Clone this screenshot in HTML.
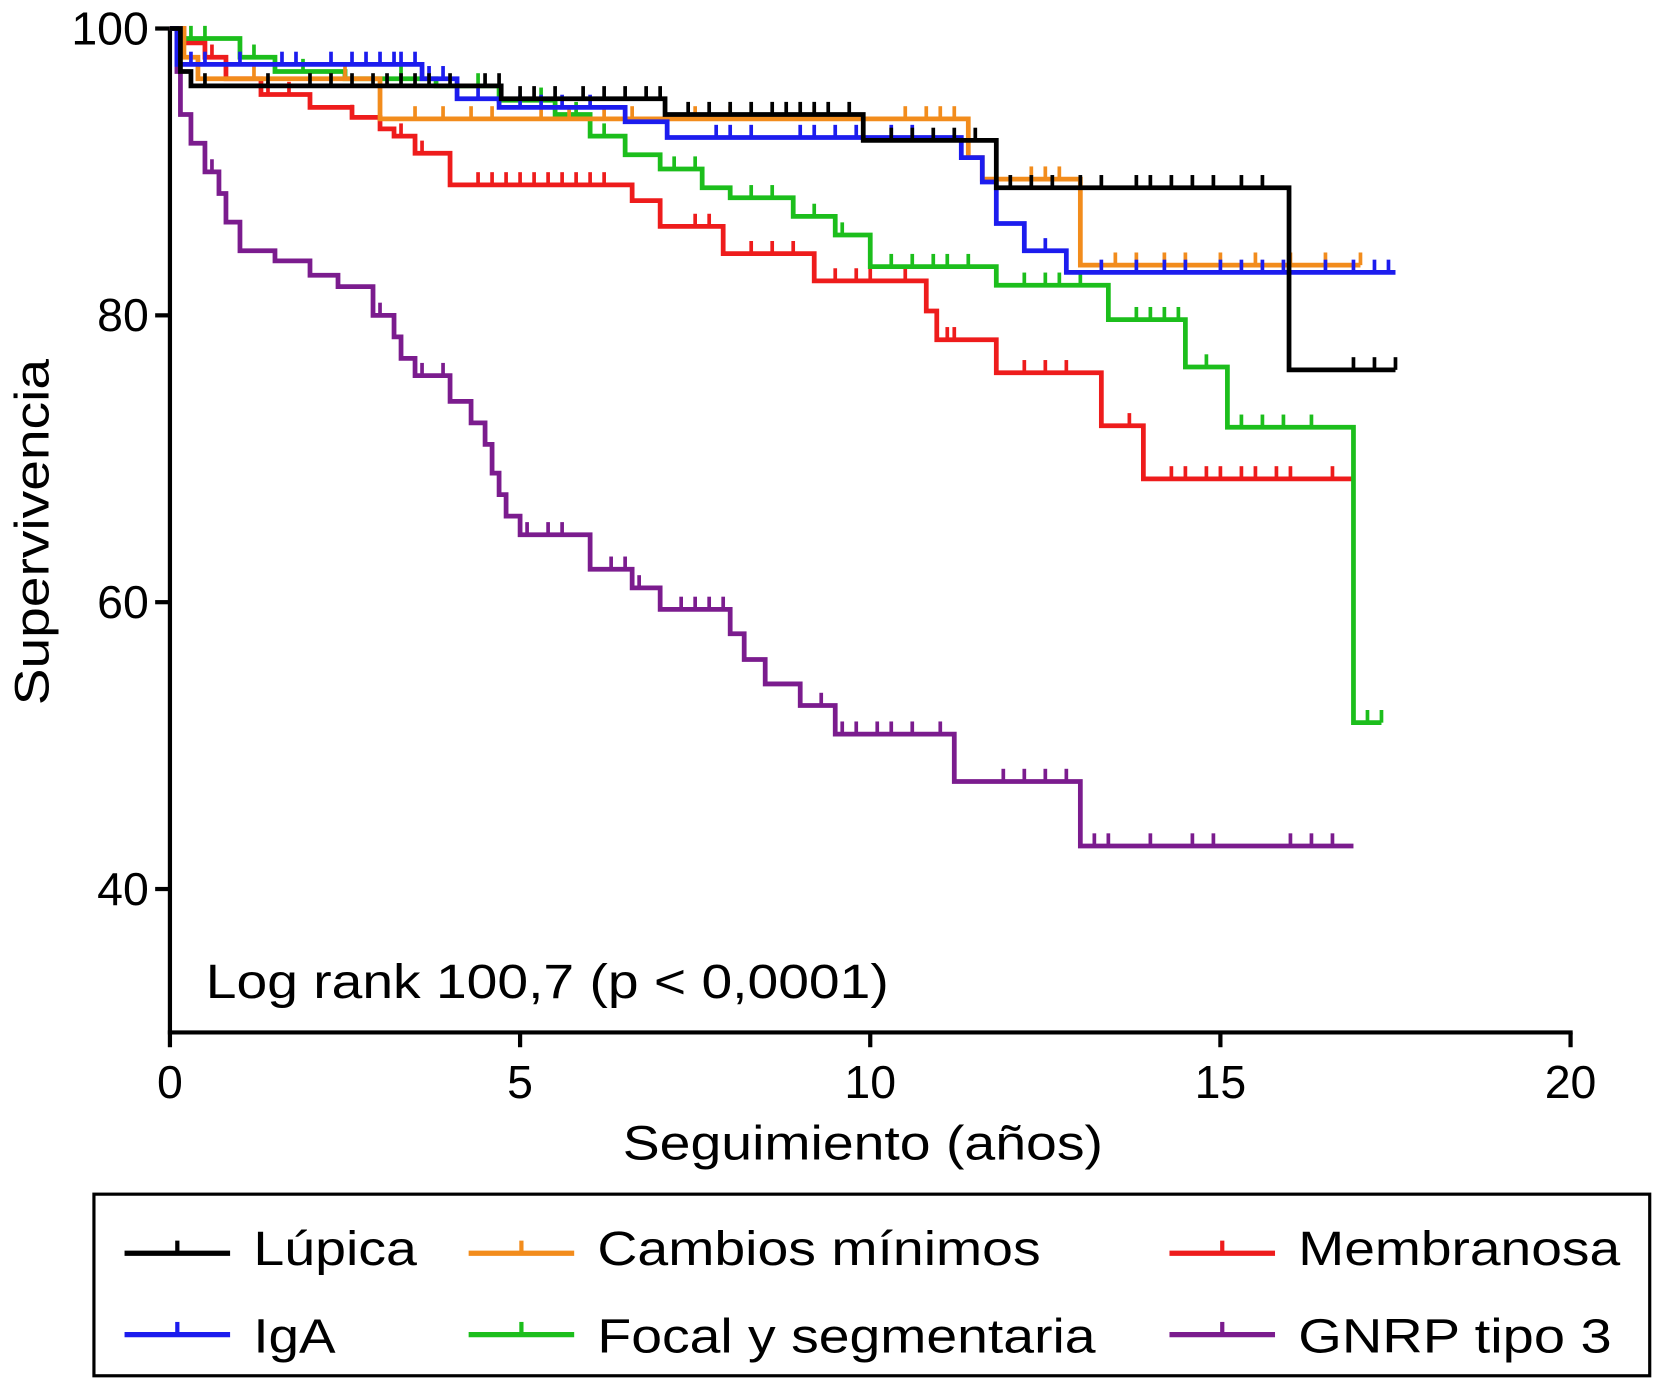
<!DOCTYPE html>
<html><head><meta charset="utf-8"><style>
html,body{margin:0;padding:0;background:#fff;}
svg{display:block;font-family:"Liberation Sans",Arial,sans-serif;}
</style></head><body>
<svg id="chart" width="1655" height="1380" viewBox="0 0 1568 1307" preserveAspectRatio="none" xmlns="http://www.w3.org/2000/svg">
<rect width="1568" height="1307" fill="#fff"/>
<g id="axes"></g>
<g id="series"></g>
<text x="195" y="945" font-size="46" textLength="647" lengthAdjust="spacingAndGlyphs">Log rank 100,7 (p &lt; 0,0001)</text>
<text x="590" y="1098" font-size="46" textLength="455" lengthAdjust="spacingAndGlyphs">Seguimiento (años)</text>
<text transform="translate(46,668) rotate(-90)" font-size="46" textLength="328" lengthAdjust="spacingAndGlyphs">Supervivencia</text>
<g>
<rect x="89" y="1131" width="1474" height="172" fill="none" stroke="#000" stroke-width="3"/>
<g><line x1="118" y1="1187" x2="218" y2="1187" stroke="#000" stroke-width="5"/><line x1="168" y1="1187" x2="168" y2="1175" stroke="#000" stroke-width="4"/><text x="240" y="1198" font-size="46" textLength="155" lengthAdjust="spacingAndGlyphs">Lúpica</text></g>
<g><line x1="444" y1="1187" x2="544" y2="1187" stroke="#F28C1C" stroke-width="5"/><line x1="494" y1="1187" x2="494" y2="1175" stroke="#F28C1C" stroke-width="4"/><text x="566" y="1198" font-size="46" textLength="420" lengthAdjust="spacingAndGlyphs">Cambios mínimos</text></g>
<g><line x1="1108" y1="1187" x2="1208" y2="1187" stroke="#EE1C1C" stroke-width="5"/><line x1="1158" y1="1187" x2="1158" y2="1175" stroke="#EE1C1C" stroke-width="4"/><text x="1230" y="1198" font-size="46" textLength="305" lengthAdjust="spacingAndGlyphs">Membranosa</text></g>
<g><line x1="118" y1="1264" x2="218" y2="1264" stroke="#1C1CEE" stroke-width="5"/><line x1="168" y1="1264" x2="168" y2="1252" stroke="#1C1CEE" stroke-width="4"/><text x="240" y="1281" font-size="46" textLength="78" lengthAdjust="spacingAndGlyphs">IgA</text></g>
<g><line x1="444" y1="1264" x2="544" y2="1264" stroke="#1CBE1C" stroke-width="5"/><line x1="494" y1="1264" x2="494" y2="1252" stroke="#1CBE1C" stroke-width="4"/><text x="566" y="1281" font-size="46" textLength="472" lengthAdjust="spacingAndGlyphs">Focal y segmentaria</text></g>
<g><line x1="1108" y1="1264" x2="1208" y2="1264" stroke="#7B1C8E" stroke-width="5"/><line x1="1158" y1="1264" x2="1158" y2="1252" stroke="#7B1C8E" stroke-width="4"/><text x="1230" y="1281" font-size="46" textLength="297" lengthAdjust="spacingAndGlyphs">GNRP tipo 3</text></g>
</g>
</svg>
<script>
const xTicks=[0,5,10,15,20];
const yTicks=[40,60,80,100];
// Lúpica
const lupT=[0,0.15,0.3,4.73,7.07,9.9,11.8,15.98];
const lupS=[100,97,96,95.1,94,92.2,88.9,76.2];
const lupEnd=17.5;
const lupC=[0.5,1.4,2.0,2.3,2.6,2.9,3.1,3.3,3.5,3.7,4.0,4.5,4.7,5.0,5.2,5.5,5.9,6.2,6.5,6.8,7.0,7.4,7.7,8.0,8.3,8.6,8.8,9.0,9.2,9.4,9.7,10.3,10.6,10.9,11.2,11.5,12.0,12.3,12.6,13.0,13.3,13.8,14.0,14.3,14.6,14.9,15.3,15.6,16.9,17.2,17.5];
// Cambios mínimos
const camT=[0,0.2,0.4,3.0,11.4,11.6,13.0];
const camS=[100,98,96.5,93.7,91,89.5,83.5];
const camEnd=17.0;
const camC=[1.2,2.5,3.5,3.9,4.3,4.6,5.3,5.7,6.2,6.6,7.5,8.0,9.2,10.5,10.8,11.0,11.2,12.3,12.5,12.7,13.5,13.8,14.2,14.5,15.0,15.5,16.0,16.5,17.0];
// IgA
const igaT=[0,0.1,3.6,4.1,4.7,6.5,7.1,11.3,11.6,11.8,12.2,12.8];
const igaS=[100,97.5,96.5,95.1,94.5,93.5,92.4,91,89.3,86.4,84.5,83];
const igaEnd=17.5;
const igaC=[0.3,0.5,1.0,1.6,1.8,2.3,2.6,2.8,3.0,3.2,3.3,3.5,3.7,3.9,4.4,5.0,5.3,5.6,6.0,7.8,8.0,8.3,9.0,9.2,9.5,9.8,10.3,10.6,12.5,12.8,13.3,13.8,14.2,14.5,15.0,15.3,15.6,15.9,16.5,16.9,17.2,17.4];
// Focal y segmentaria
const focT=[0,0.1,1.0,1.5,2.5,3.8,4.7,5.5,6.0,6.5,7.0,7.6,8.0,8.9,9.5,10.0,11.8,13.4,14.5,15.1,16.9];
const focS=[100,99.3,98,97,96.5,96,95,94,92.5,91.2,90.2,88.9,88.2,86.9,85.6,83.4,82.1,79.7,76.4,72.2,51.6];
const focEnd=17.3;
const focC=[0.3,0.5,1.2,1.9,3.3,4.4,5.3,5.8,6.2,7.2,7.5,8.3,8.6,9.2,9.6,10.3,10.6,10.9,11.1,11.4,12.2,12.5,12.7,13.0,13.8,14.0,14.2,14.4,14.8,15.3,15.6,15.9,16.3,17.1,17.3];
// Membranosa
const memT=[0,0.2,0.5,0.8,1.3,2.0,2.6,3.0,3.2,3.5,4.0,6.6,7.0,7.9,9.2,10.8,10.95,11.8,13.3,13.9];
const memS=[100,99,98,96.5,95.4,94.5,93.8,93,92.5,91.3,89.1,88,86.2,84.3,82.4,80.3,78.3,76,72.3,68.6];
const memEnd=16.9;
const memC=[0.6,1.4,1.7,2.6,3.3,3.6,4.4,4.6,4.8,5.0,5.2,5.4,5.6,5.8,6.0,6.2,7.5,7.7,8.3,8.6,8.9,9.5,9.8,10.0,10.5,11.1,11.2,12.2,12.5,12.8,13.7,14.3,14.5,14.8,15.0,15.3,15.5,15.8,16.0,16.6];
// GNRP tipo 3
const gnrT=[0,0.1,0.15,0.3,0.5,0.7,0.8,1.0,1.5,2.0,2.4,2.9,3.2,3.3,3.5,4.0,4.3,4.5,4.6,4.7,4.8,5.0,6.0,6.6,7.0,8.0,8.2,8.5,9.0,9.5,11.2,13.0];
const gnrS=[100,97,94,92,90,88.5,86.5,84.5,83.8,82.8,82,80,78.5,77,75.8,74,72.5,71,69,67.5,66,64.7,62.3,61,59.5,57.8,56,54.3,52.8,50.8,47.5,43];
const gnrEnd=16.9;
const gnrC=[0.6,2.0,3.0,3.5,3.6,3.9,4.3,4.5,5.1,5.4,5.6,6.3,6.5,6.7,7.3,7.5,7.7,7.9,8.5,9.3,9.6,9.8,10.1,10.3,10.6,11.0,11.9,12.2,12.5,12.8,13.2,13.4,14.0,14.6,14.9,16.0,16.3,16.6];

const NS="http://www.w3.org/2000/svg";
const X=v=>161+v*(1488-161)/20;
const Y=v=>27+(100-v)*(842-27)/60;
function el(tag,attrs,parent){const e=document.createElementNS(NS,tag);for(const k in attrs)e.setAttribute(k,attrs[k]);parent.appendChild(e);return e;}
const axes=document.getElementById('axes');
let a=el('line',{x1:X(0),y1:Y(100),x2:X(0),y2:Y(30),stroke:'#000','stroke-width':4},axes);


a=el('line',{x1:X(0)-2,y1:Y(30),x2:X(20)+2,y2:Y(30),stroke:'#000','stroke-width':4},axes);


xTicks.forEach(t=>{
  const l=el('line',{x1:X(t),y1:Y(30),x2:X(t),y2:Y(30)+14,stroke:'#000','stroke-width':4},axes);
  
  
  const tx=el('text',{x:X(t),y:Y(30)+62,'font-size':44,'text-anchor':'middle'},axes);
  tx.textContent=t;
  
  
});
yTicks.forEach(t=>{
  const l=el('line',{x1:X(0)-14,y1:Y(t),x2:X(0),y2:Y(t),stroke:'#000','stroke-width':4},axes);
  
  
  const tx=el('text',{x:X(0)-20,y:Y(t)+15,'font-size':44,'text-anchor':'end'},axes);
  tx.textContent=t;
  
  
});
const series=document.getElementById('series');
function surv(T,S,t){let s=S[0];for(let i=0;i<T.length;i++){if(T[i]<=t)s=S[i];}return s;}
function draw(name,T,S,end,C,color){
  const g=el('g',{},series);
  
  
  let d='M'+X(T[0])+','+Y(S[0]);
  for(let i=1;i<T.length;i++){d+=' H'+X(T[i])+' V'+Y(S[i]);}
  d+=' H'+X(end);
  const p=el('path',{d:d,fill:'none',stroke:color,'stroke-width':4.5},g);
  
  
  C.forEach(c=>{
    const y=Y(surv(T,S,c));
    const m=el('line',{x1:X(c),y1:y,x2:X(c),y2:y-12,stroke:color,'stroke-width':3.5},g);
    
    
  });
}
draw('series-membranosa',memT,memS,memEnd,memC,'#EE1C1C');
draw('series-focal-segmentaria',focT,focS,focEnd,focC,'#1CBE1C');
draw('series-gnrp-tipo3',gnrT,gnrS,gnrEnd,gnrC,'#7B1C8E');
draw('series-cambios-minimos',camT,camS,camEnd,camC,'#F28C1C');
draw('series-iga',igaT,igaS,igaEnd,igaC,'#1C1CEE');
draw('series-lupica',lupT,lupS,lupEnd,lupC,'#000000');
</script>
</body></html>
